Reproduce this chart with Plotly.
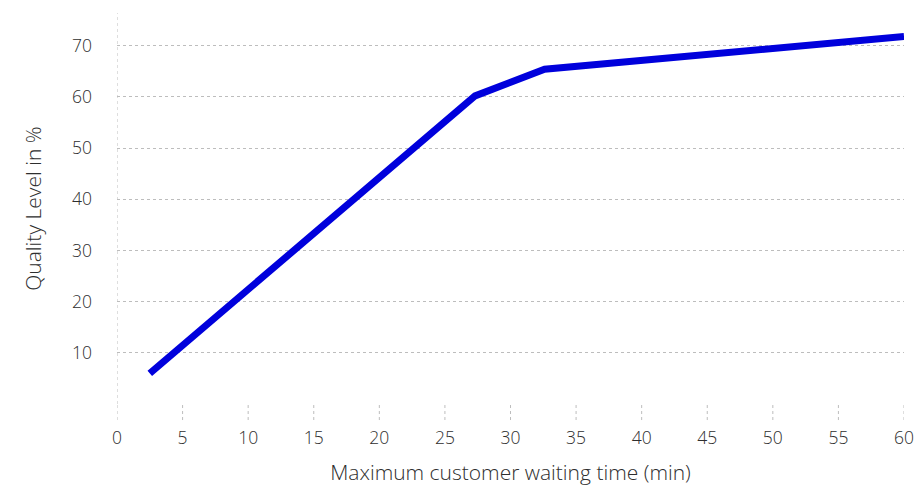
import plotly.graph_objects as go

waiting_time = [2.5, 27.3, 32.6, 60]
quality_level = [6.0, 60.2, 65.4, 71.8]

x_ticks = [0, 5, 10, 15, 20, 25, 30, 35, 40, 45, 50, 55, 60]
y_ticks = [0, 10, 20, 30, 40, 50, 60, 70]
y_tick_text = ["", "10", "20", "30", "40", "50", "60", "70"]

grid_color = "#bdbdbd"
font_family = "Open Sans"

fig = go.Figure()
fig.add_trace(go.Scatter(
    x=waiting_time, y=quality_level, mode="lines",
    line=dict(color="#0000DC", width=7),
    hoverinfo="skip", showlegend=False,
))

shapes = [dict(type="line", xref="x", yref="y domain", x0=0, x1=0, y0=0, y1=1,
               line=dict(color=grid_color, width=1, dash="dot"), layer="below")]
for t in x_ticks:
    shapes.append(dict(type="line", xref="x", yref="y domain", x0=t, x1=t, y0=-0.041, y1=0,
                       line=dict(color=grid_color, width=1, dash="dot"), layer="below"))

fig.update_layout(
    width=919, height=489,
    margin=dict(l=117, r=15, t=13, b=85),
    paper_bgcolor="white", plot_bgcolor="white",
    font=dict(family=font_family, size=17.5, color="#2e2e2e", weight=300),
    shapes=shapes,
    xaxis=dict(
        range=[0, 60], tickvals=x_ticks, showgrid=False, zeroline=False, showline=False,
        ticks="outside", ticklen=16, tickcolor="rgba(0,0,0,0)", automargin=False,
        ticklabelstandoff=2, ticklabeloverflow="allow",
        title=dict(text="Maximum customer waiting time (min)", standoff=17,
                   font=dict(size=21)),
    ),
    yaxis=dict(
        range=[0, 76.4], tickvals=y_ticks, ticktext=y_tick_text,
        showgrid=True, gridcolor=grid_color, griddash="dot", gridwidth=1,
        zeroline=False, showline=False, ticks="", ticklabelstandoff=24,
        automargin=False,
        title=dict(text="Quality Level in %", standoff=24, font=dict(size=21)),
    ),
)

fig.write_html(
    "out.html",
    config={"displayModeBar": False},
    post_script="document.body.style.margin='0';document.body.style.overflow='hidden';",
)
